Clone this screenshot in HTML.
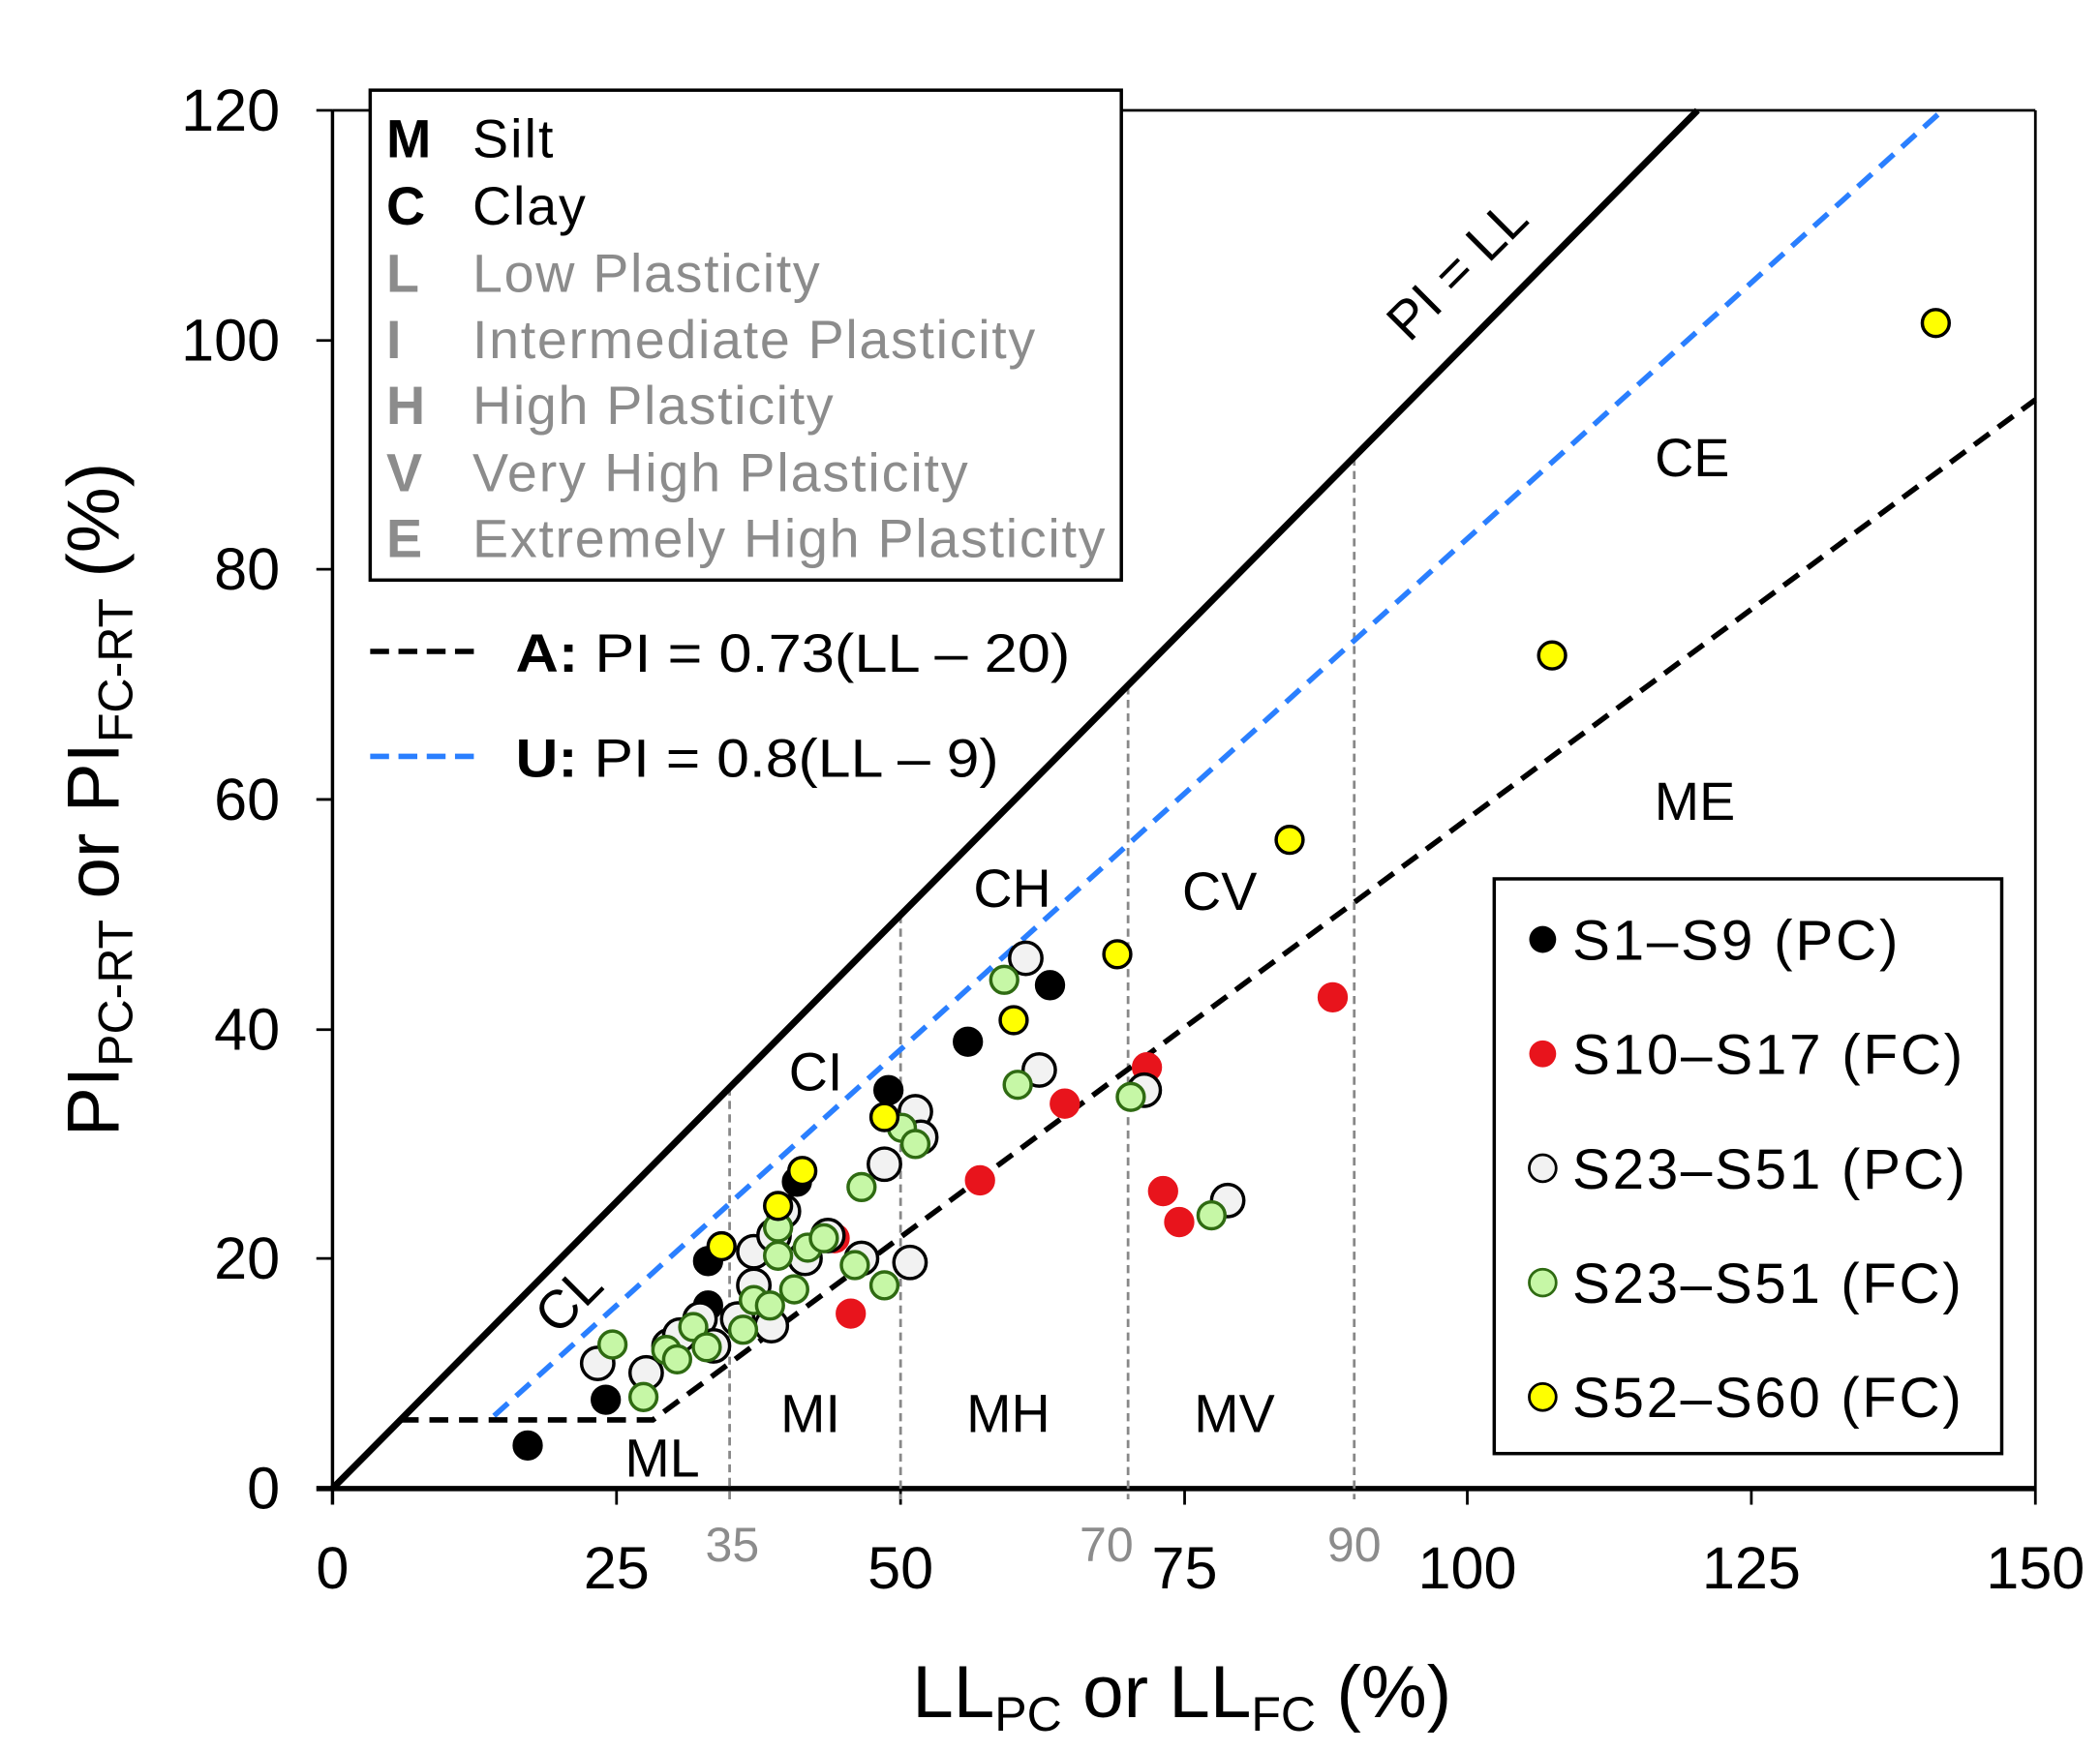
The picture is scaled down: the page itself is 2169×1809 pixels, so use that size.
<!DOCTYPE html>
<html><head><meta charset="utf-8"><style>html,body{margin:0;padding:0;background:#fff}svg{display:block}</style></head>
<body>
<svg width="2169" height="1809" viewBox="0 0 1560 1301" preserveAspectRatio="none" xmlns="http://www.w3.org/2000/svg" font-family="Liberation Sans, Arial, sans-serif">
<rect width="1560" height="1301" fill="#fff"/>
<line x1="247" y1="82" x2="1512" y2="82" stroke="#000" stroke-width="2"/>
<line x1="1512" y1="82" x2="1512" y2="1118" stroke="#000" stroke-width="2"/>
<line x1="247" y1="82" x2="247" y2="1118" stroke="#000" stroke-width="2.5"/>
<line x1="235" y1="1106" x2="1512" y2="1106" stroke="#000" stroke-width="4"/>
<g stroke="#000" stroke-width="2">
<line x1="235" y1="82" x2="247" y2="82"/><line x1="235" y1="253" x2="247" y2="253"/><line x1="235" y1="423" x2="247" y2="423"/><line x1="235" y1="594" x2="247" y2="594"/><line x1="235" y1="765" x2="247" y2="765"/><line x1="235" y1="935" x2="247" y2="935"/>
<line x1="458" y1="1106" x2="458" y2="1118"/><line x1="669" y1="1106" x2="669" y2="1118"/><line x1="880" y1="1106" x2="880" y2="1118"/><line x1="1090" y1="1106" x2="1090" y2="1118"/><line x1="1301" y1="1106" x2="1301" y2="1118"/>
</g>
<g font-size="44" text-anchor="end" fill="#000">
<text x="208" y="97">120</text><text x="208" y="268">100</text><text x="208" y="438">80</text><text x="208" y="609">60</text><text x="208" y="780">40</text><text x="208" y="950">20</text><text x="208" y="1121">0</text>
</g>
<g font-size="44" text-anchor="middle" fill="#000">
<text x="247" y="1180">0</text><text x="458" y="1180">25</text><text x="669" y="1180">50</text><text x="880" y="1180">75</text><text x="1090" y="1180">100</text><text x="1301" y="1180">125</text><text x="1512" y="1180">150</text>
</g>
<g font-size="36" text-anchor="middle" fill="#8c8c8c">
<text x="544" y="1160">35</text><text x="822" y="1160">70</text><text x="1006" y="1160">90</text>
</g>
<g stroke="#888" stroke-width="2" stroke-dasharray="6,4">
<line x1="542" y1="808" x2="542" y2="1114"/><line x1="669" y1="680" x2="669" y2="1114"/><line x1="838" y1="510" x2="838" y2="1114"/><line x1="1006" y1="340" x2="1006" y2="1114"/>
</g>
<line x1="247" y1="1106" x2="1261" y2="82" stroke="#000" stroke-width="5"/>
<line x1="367" y1="1052" x2="1443" y2="82" stroke="#2a7fff" stroke-width="4" stroke-dasharray="14,8"/>
<polyline points="297,1055 485,1055 1512,297" fill="none" stroke="#000" stroke-width="4" stroke-dasharray="14,8"/>
<g font-size="40" fill="#000" text-anchor="middle">
<text x="492" y="1097">ML</text><text x="602" y="1064">MI</text><text x="749" y="1064">MH</text><text x="917" y="1064">MV</text>
<text x="606" y="810">CI</text><text x="752" y="674">CH</text><text x="906" y="676">CV</text><text x="1257" y="354">CE</text><text x="1259" y="609">ME</text>
<text transform="translate(432,975) rotate(-45)">CL</text>
<text transform="translate(1092,210) rotate(-45)">PI = LL</text>
</g>
<g stroke-width="2.5">
<g fill="#000" stroke="#000">
<circle cx="392" cy="1074" r="10"/><circle cx="450" cy="1040" r="10"/><circle cx="526" cy="970" r="10"/><circle cx="526" cy="937" r="10"/><circle cx="592" cy="878" r="10"/><circle cx="660" cy="810" r="10"/><circle cx="719" cy="774" r="10"/><circle cx="780" cy="732" r="10"/>
</g>
<g fill="#e8141c" stroke="#e8141c">
<circle cx="852" cy="793" r="10"/><circle cx="791" cy="820" r="10"/><circle cx="728" cy="877" r="10"/><circle cx="864" cy="885" r="10"/><circle cx="876" cy="908" r="10"/><circle cx="990" cy="741" r="10"/><circle cx="632" cy="976" r="10"/><circle cx="620" cy="920" r="10"/>
</g>
<g fill="#f2f2f2" stroke="#000">
<circle cx="444" cy="1013" r="12"/><circle cx="480" cy="1020" r="12"/><circle cx="497" cy="1000" r="12"/><circle cx="505" cy="992" r="12"/><circle cx="520" cy="980" r="12"/><circle cx="530" cy="1000" r="12"/><circle cx="548" cy="980" r="12"/><circle cx="560" cy="955" r="12"/><circle cx="573" cy="985" r="12"/><circle cx="560" cy="930" r="12"/><circle cx="575" cy="918" r="12"/><circle cx="582" cy="900" r="12"/><circle cx="598" cy="935" r="12"/><circle cx="615" cy="918" r="12"/><circle cx="640" cy="935" r="12"/><circle cx="657" cy="865" r="12"/><circle cx="680" cy="826" r="12"/><circle cx="684" cy="845" r="12"/><circle cx="676" cy="938" r="12"/><circle cx="772" cy="795" r="12"/><circle cx="762" cy="712" r="12"/><circle cx="850" cy="810" r="12"/><circle cx="912" cy="892" r="12"/>
</g>
<g fill="#c6f7a6" stroke="#2f6b12">
<circle cx="455" cy="999" r="10"/><circle cx="478" cy="1038" r="10"/><circle cx="495" cy="1003" r="10"/><circle cx="503" cy="1010" r="10"/><circle cx="515" cy="986" r="10"/><circle cx="525" cy="1001" r="10"/><circle cx="552" cy="988" r="10"/><circle cx="560" cy="966" r="10"/><circle cx="572" cy="970" r="10"/><circle cx="578" cy="912" r="10"/><circle cx="578" cy="933" r="10"/><circle cx="590" cy="958" r="10"/><circle cx="600" cy="927" r="10"/><circle cx="612" cy="920" r="10"/><circle cx="640" cy="882" r="10"/><circle cx="635" cy="940" r="10"/><circle cx="657" cy="955" r="10"/><circle cx="670" cy="838" r="10"/><circle cx="680" cy="850" r="10"/><circle cx="746" cy="728" r="10"/><circle cx="756" cy="806" r="10"/><circle cx="840" cy="815" r="10"/><circle cx="900" cy="903" r="10"/>
</g>
<g fill="#ffff00" stroke="#000">
<circle cx="1438" cy="240" r="10"/><circle cx="1153" cy="487" r="10"/><circle cx="958" cy="624" r="10"/><circle cx="830" cy="709" r="10"/><circle cx="753" cy="758" r="10"/><circle cx="657" cy="830" r="10"/><circle cx="596" cy="870" r="10"/><circle cx="578" cy="896" r="10"/><circle cx="536" cy="926" r="10"/>
</g>
</g>
<rect x="275" y="67" width="558" height="364" fill="#fff" stroke="#000" stroke-width="2.5"/>
<g font-size="40">
<text x="287" y="117" font-weight="bold" fill="#000">M</text><text x="351" y="117" fill="#000" textLength="60">Silt</text>
<text x="287" y="167" font-weight="bold" fill="#000">C</text><text x="351" y="167" fill="#000" textLength="84">Clay</text>
<g fill="#8c8c8c">
<text x="287" y="217" font-weight="bold">L</text><text x="351" y="217" textLength="258">Low Plasticity</text>
<text x="287" y="266" font-weight="bold">I</text><text x="351" y="266" textLength="418">Intermediate Plasticity</text>
<text x="287" y="315" font-weight="bold">H</text><text x="351" y="315" textLength="268">High Plasticity</text>
<text x="287" y="365" font-weight="bold">V</text><text x="351" y="365" textLength="368">Very High Plasticity</text>
<text x="287" y="414" font-weight="bold">E</text><text x="351" y="414" textLength="470">Extremely High Plasticity</text>
</g>
</g>
<line x1="275" y1="484" x2="357" y2="484" stroke="#000" stroke-width="4" stroke-dasharray="14,7"/>
<line x1="275" y1="562" x2="357" y2="562" stroke="#2a7fff" stroke-width="4" stroke-dasharray="14,7"/>
<g font-size="40" fill="#000">
<text x="383" y="499" textLength="412" lengthAdjust="spacingAndGlyphs"><tspan font-weight="bold">A:</tspan> PI = 0.73(LL – 20)</text>
<text x="383" y="577" textLength="359" lengthAdjust="spacingAndGlyphs"><tspan font-weight="bold">U:</tspan> PI = 0.8(LL – 9)</text>
</g>
<rect x="1110" y="653" width="377" height="427" fill="#fff" stroke="#000" stroke-width="2.5"/>
<g font-size="42" fill="#000">
<circle cx="1146" cy="698" r="10" fill="#000"/><text x="1168" y="713" textLength="242">S1–S9 (PC)</text>
<circle cx="1146" cy="783" r="10" fill="#e8141c"/><text x="1168" y="798" textLength="290">S10–S17 (FC)</text>
<circle cx="1146" cy="868" r="10" fill="#f2f2f2" stroke="#000" stroke-width="2"/><text x="1168" y="883" textLength="292">S23–S51 (PC)</text>
<circle cx="1146" cy="953" r="10" fill="#c6f7a6" stroke="#2f6b12" stroke-width="2"/><text x="1168" y="968" textLength="289">S23–S51 (FC)</text>
<circle cx="1146" cy="1038" r="10" fill="#ffff00" stroke="#000" stroke-width="2"/><text x="1168" y="1053" textLength="289">S52–S60 (FC)</text>
</g>
<text x="878" y="1276" font-size="55" text-anchor="middle" fill="#000">LL<tspan font-size="36" dy="10">PC</tspan><tspan dy="-10"> or LL</tspan><tspan font-size="36" dy="10">FC</tspan><tspan dy="-10"> (%)</tspan></text>
<text transform="translate(88,594) rotate(-90)" font-size="55" text-anchor="middle" fill="#000">PI<tspan font-size="36" dy="10">PC-RT</tspan><tspan dy="-10"> or PI</tspan><tspan font-size="36" dy="10">FC-RT</tspan><tspan dy="-10"> (%)</tspan></text>
</svg>
</body></html>
